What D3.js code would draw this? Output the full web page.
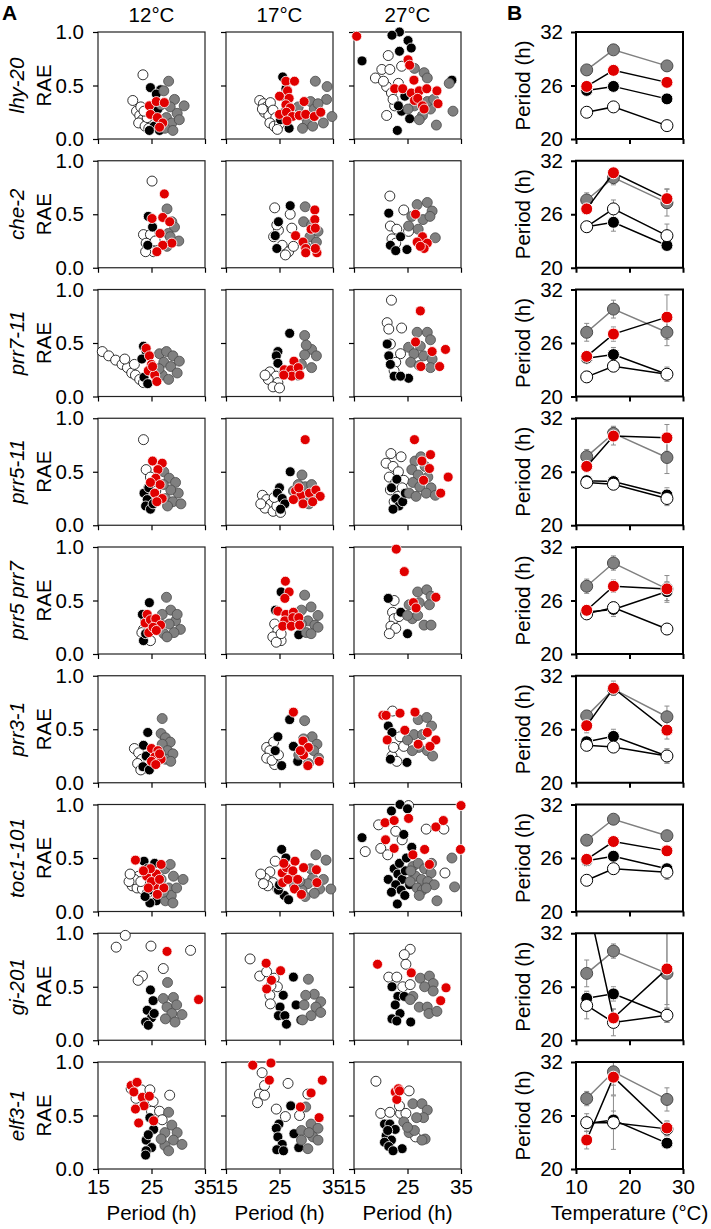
<!DOCTYPE html>
<html>
<head>
<meta charset="utf-8">
<script src="https://cdn.jsdelivr.net/npm/d3@7"></script>
<style>
  body { margin: 0; background: #fff; }
  text { font-family: "Liberation Sans", Arial, sans-serif; }
</style>
</head>
<body>
<svg width="711" height="1229"></svg>
<script>
const genotypes = ['lhy-20', 'che-2', 'prr7-11', 'prr5-11', 'prr5 prr7', 'prr3-1', 'toc1-101', 'gi-201', 'elf3-1']
const temps = [12, 17, 27]
const tempLabels = ['12°C', '17°C', '27°C']

// scatter points per row (genotype) and column (temperature): [period, RAE]
const ptsWhite = [
  [[[23.4,0.6],[21.5,0.36],[22.2,0.26],[22.8,0.22],[23.3,0.18],[22.6,0.15],[23.8,0.12],[24.2,0.2],[23.0,0.3],[24.5,0.1],[23.6,0.26]],
   [[21.3,0.36],[22.0,0.33],[22.6,0.3],[23.3,0.34],[22.2,0.25],[23.0,0.22],[23.8,0.27],[24.3,0.2],[23.2,0.15],[24.0,0.12],[25.0,0.14],[24.6,0.09],[21.8,0.28]],
   [[21.4,0.78],[20.2,0.65],[19.0,0.57],[21.7,0.65],[21.1,0.49],[22.0,0.43],[21.1,0.22],[22.6,0.31],[20.5,0.54],[22.3,0.37],[23.3,0.52],[23.9,0.68]]],
  [[[25.1,0.81],[23.5,0.31],[24.8,0.31],[24.0,0.23],[24.4,0.17],[25.4,0.15],[23.9,0.15],[25.7,0.25]],
   [[24.1,0.56],[27.0,0.5],[24.8,0.35],[23.9,0.29],[25.5,0.21],[26.7,0.15],[27.6,0.2],[27.3,0.37],[24.5,0.4],[26.1,0.12]],
   [[21.7,0.67],[24.3,0.54],[21.8,0.39],[23.0,0.36],[22.1,0.27],[25.2,0.34],[22.8,0.23]]],
  [[[15.8,0.42],[17.0,0.38],[18.3,0.34],[19.5,0.3],[20.5,0.27],[21.3,0.22],[22.0,0.2],[22.8,0.16],[23.5,0.13],[20.0,0.35],[21.8,0.3]],
   [[23.2,0.23],[24.4,0.19],[22.9,0.16],[24.7,0.13],[23.8,0.09],[25.0,0.08],[22.3,0.2]],
   [[22.0,0.9],[21.2,0.69],[21.5,0.63],[23.9,0.64],[21.8,0.49],[23.7,0.4],[22.8,0.32],[22.5,0.24]]],
  [[[23.5,0.8],[24.0,0.52],[24.8,0.45],[25.3,0.4],[24.5,0.35],[25.8,0.32],[25.0,0.25]],
   [[21.8,0.28],[22.6,0.24],[23.4,0.2],[22.3,0.16],[23.8,0.13],[24.5,0.18],[25.2,0.12],[24.0,0.26],[21.5,0.2]],
   [[21.9,0.67],[23.8,0.64],[21.0,0.58],[22.3,0.55],[23.3,0.5],[21.6,0.45],[22.8,0.4],[24.3,0.42],[21.8,0.33],[23.2,0.27],[22.5,0.22],[24.0,0.35]]],
  [[[23.9,0.31],[23.5,0.23],[24.2,0.16],[24.8,0.125],[23.2,0.2]],
   [[24.1,0.28],[24.7,0.22],[23.75,0.16],[25.3,0.125],[24.4,0.11],[25.3,0.19]],
   [[22.5,0.5],[22.2,0.39],[22.5,0.33],[21.9,0.26],[22.8,0.24],[21.6,0.19],[23.4,0.35]]],
  [[[21.8,0.32],[22.6,0.28],[23.2,0.22],[22.4,0.18],[23.8,0.14],[24.5,0.2],[23.0,0.12]],
   [[22.6,0.33],[23.9,0.38],[23.2,0.3],[22.6,0.23],[24.1,0.17],[23.6,0.21],[24.8,0.26]],
   [[22.2,0.67],[23.6,0.43],[24.3,0.34],[22.1,0.25],[23.0,0.2],[22.4,0.33]]],
  [[[21.4,0.24],[22.3,0.22],[23.3,0.21],[24.2,0.17],[22.6,0.33],[21.8,0.3],[20.8,0.28],[23.0,0.28],[21.0,0.35]],
   [[24.2,0.47],[23.2,0.37],[22.3,0.31],[23.8,0.27],[24.7,0.21],[22.8,0.24],[21.5,0.35],[22.0,0.26]],
   [[25.2,0.99],[19.6,0.81],[17.1,0.56],[20.0,0.59],[21.3,0.53],[28.5,0.77],[31.8,0.77],[32.0,0.36],[24.0,0.67],[22.8,0.75]]],
  [[[18.4,0.87],[20.1,0.98],[24.9,0.88],[32.3,0.84],[27.2,0.67],[23.3,0.6],[22.5,0.56]],
   [[19.5,0.76],[21.3,0.6],[22.6,0.64],[24.0,0.58],[24.6,0.5],[23.4,0.51],[23.2,0.42],[23.3,0.34]],
   [[25.5,0.85],[24.4,0.8],[24.7,0.71],[21.5,0.59],[23.0,0.59],[24.1,0.5],[25.5,0.52]]],
  [[[21.2,0.75],[23.1,0.74],[24.7,0.74],[28.4,0.69],[22.1,0.66],[24.0,0.66],[25.3,0.63],[25.0,0.54],[26.5,0.54],[27.0,0.46]],
   [[21.75,0.9],[22.2,0.78],[21.25,0.7],[22.2,0.69],[20.9,0.62],[26.6,0.8],[30.3,0.7],[24.4,0.56],[26.1,0.49],[28.75,0.5]],
   [[19.1,0.82],[25.3,0.73],[20.0,0.52],[21.7,0.53],[23.7,0.52],[24.7,0.52],[23.5,0.59],[26.5,0.3],[21.3,0.39]]]
]

const ptsBlack = [
  [[[24.8,0.48],[26.7,0.46],[25.9,0.42],[25.2,0.3],[26.0,0.2],[25.5,0.12],[26.5,0.08],[27.2,0.15],[24.6,0.08],[26.2,0.28]],
   [[25.6,0.58],[26.2,0.47],[25.6,0.4],[25.9,0.25],[26.8,0.1],[25.2,0.18],[26.5,0.32]],
   [[23.5,1.0],[22.1,0.97],[25.1,0.92],[25.7,0.85],[23.5,0.82],[16.5,0.73],[33.3,0.55],[23.1,0.08],[25.4,0.19],[23.9,0.26],[23.3,0.31],[24.5,0.4]]],
  [[[24.4,0.48],[25.2,0.38],[24.3,0.21]],
   [[27.0,0.58],[24.8,0.43],[24.5,0.18],[24.2,0.3]],
   [[21.5,0.51],[21.8,0.21],[24.9,0.17],[22.8,0.16],[23.7,0.29]]],
  [[[23.5,0.47],[24.0,0.42],[23.2,0.35],[24.6,0.25],[23.6,0.18],[24.3,0.12]],
   [[26.9,0.59],[24.7,0.42],[24.4,0.38],[24.7,0.31],[25.7,0.22]],
   [[21.2,0.49],[21.5,0.38],[21.8,0.3],[22.5,0.19],[25.2,0.17],[23.7,0.19]]],
  [[[23.6,0.3],[24.2,0.24],[23.9,0.18],[24.8,0.15],[25.3,0.2],[24.5,0.35]],
   [[27.0,0.5],[25.0,0.35],[24.6,0.3],[25.5,0.25],[26.0,0.2],[25.2,0.15]],
   [[22.0,0.35],[22.8,0.25],[23.4,0.18],[24.1,0.22],[22.3,0.15],[24.6,0.3],[23.0,0.43]]],
  [[[24.6,0.48],[23.3,0.37],[23.5,0.125],[23.9,0.19]],
   [[24.25,0.41],[25.3,0.58],[28.6,0.18]],
   [[21.4,0.52],[25.0,0.19],[23.75,0.39]]],
  [[[24.3,0.47],[23.5,0.35],[24.0,0.25],[23.4,0.15],[24.6,0.12]],
   [[26.9,0.59],[24.7,0.43],[27.6,0.34],[25.4,0.16],[28.4,0.2],[24.2,0.3]],
   [[21.4,0.53],[22.1,0.47],[24.9,0.19],[21.8,0.22]]],
  [[[23.6,0.47],[25.9,0.1],[24.7,0.08],[24.2,0.4],[25.0,0.3],[24.6,0.2],[25.6,0.45],[23.8,0.14],[26.2,0.18]],
   [[25.4,0.58],[25.9,0.15],[26.7,0.11],[24.8,0.2],[26.2,0.5],[25.0,0.25]],
   [[23.6,1.0],[22.0,0.94],[25.0,0.96],[16.5,0.69],[21.4,0.3],[23.1,0.07],[22.5,0.4],[23.2,0.35],[24.0,0.3],[22.8,0.25],[23.8,0.2],[24.6,0.38],[25.4,0.25],[22.0,0.18],[24.5,0.15],[23.5,0.45],[24.8,0.5],[25.8,0.6],[24.3,0.72]]],
  [[[24.8,0.47],[25.3,0.37],[24.2,0.28],[25.0,0.21],[23.9,0.17],[24.4,0.14],[25.5,0.25]],
   [[27.6,0.59],[25.7,0.42],[25.1,0.31],[24.8,0.23],[26.0,0.23],[28.1,0.33],[29.0,0.19],[26.3,0.15]],
   [[22.1,0.5],[23.2,0.41],[24.4,0.41],[22.7,0.33],[23.6,0.25],[22.1,0.2],[25.6,0.17],[23.0,0.18]]],
  [[[24.7,0.48],[25.4,0.37],[24.0,0.27],[25.0,0.2],[24.0,0.17],[23.9,0.13],[24.4,0.32]],
   [[27.1,0.59],[24.9,0.42],[24.4,0.38],[24.7,0.3],[25.5,0.23],[24.5,0.18],[25.75,0.17],[27.7,0.33],[28.6,0.2]],
   [[20.7,0.42],[21.7,0.42],[22.7,0.37],[21.0,0.31],[22.0,0.27],[20.7,0.25],[21.5,0.21],[24.0,0.19],[22.3,0.17],[21.3,0.36]]]
]

const ptsGrey = [
  [[[28.2,0.54],[27.3,0.45],[29.3,0.37],[31.1,0.31],[28.5,0.3],[29.8,0.24],[27.8,0.2],[28.8,0.15],[27.5,0.1],[29.0,0.08],[30.2,0.18],[26.8,0.32]],
   [[31.7,0.54],[33.9,0.49],[33.8,0.37],[34.8,0.21],[30.8,0.35],[31.5,0.28],[32.6,0.25],[29.5,0.22],[30.2,0.15],[31.2,0.12],[33.2,0.15],[28.5,0.3],[29.3,0.1],[32.2,0.33]],
   [[26.3,0.66],[28.1,0.62],[28.7,0.57],[32.8,0.52],[33.5,0.26],[30.4,0.13],[27.8,0.22],[29.3,0.28],[26.3,0.31],[25.1,0.28],[28.7,0.35],[27.2,0.18],[29.9,0.37]]],
  [[[27.9,0.55],[28.8,0.43],[29.3,0.38],[28.1,0.32],[30.1,0.25],[28.5,0.29],[27.9,0.2]],
   [[29.8,0.57],[29.5,0.43],[31.0,0.4],[32.2,0.34],[30.7,0.29],[31.9,0.24],[29.9,0.2]],
   [[26.8,0.59],[28.7,0.61],[29.6,0.53],[25.8,0.48],[27.9,0.45],[29.2,0.48],[25.2,0.39],[30.2,0.28],[27.0,0.36]]],
  [[[26.5,0.4],[27.8,0.42],[29.0,0.38],[30.2,0.33],[27.3,0.32],[28.6,0.28],[29.8,0.22],[27.0,0.2],[28.2,0.16],[26.4,0.26]],
   [[29.7,0.57],[31.0,0.44],[31.9,0.38],[29.7,0.39],[31.0,0.27],[29.1,0.3],[28.5,0.2],[30.0,0.48]],
   [[26.8,0.6],[28.7,0.6],[29.3,0.53],[27.4,0.47],[25.2,0.46],[26.2,0.4],[28.0,0.38],[29.6,0.35],[29.3,0.27],[25.6,0.32],[27.2,0.29]]],
  [[[27.3,0.5],[28.3,0.44],[29.5,0.4],[30.0,0.3],[28.6,0.33],[27.6,0.25],[29.0,0.22],[30.5,0.2],[27.2,0.38],[28.0,0.18]],
   [[29.2,0.47],[28.5,0.38],[29.8,0.36],[30.8,0.32],[31.5,0.27],[28.2,0.28],[29.5,0.22],[30.5,0.2],[27.6,0.32],[31.0,0.38]],
   [[26.4,0.6],[27.5,0.64],[28.3,0.55],[25.8,0.52],[27.0,0.47],[28.8,0.45],[26.0,0.4],[27.3,0.36],[29.4,0.35],[25.3,0.3],[28.5,0.3],[30.2,0.28],[26.6,0.27]]],
  [[[27.8,0.53],[28.6,0.41],[27.0,0.37],[29.5,0.31],[28.3,0.28],[30.4,0.23],[29.2,0.2],[27.3,0.19],[29.8,0.37],[26.7,0.28],[27.9,0.16]],
   [[29.7,0.55],[30.9,0.44],[29.1,0.41],[32.2,0.36],[30.3,0.31],[31.6,0.27],[30.0,0.2],[30.9,0.19],[29.1,0.28],[32.2,0.25]],
   [[26.9,0.58],[28.6,0.6],[29.4,0.54],[25.3,0.46],[27.2,0.48],[29.1,0.46],[25.9,0.33],[26.9,0.36],[28.1,0.27],[29.4,0.27],[25.0,0.36]]],
  [[[27.0,0.6],[26.8,0.46],[27.6,0.42],[28.5,0.38],[27.0,0.36],[28.0,0.3],[29.0,0.27],[27.6,0.22],[28.6,0.2],[26.6,0.28]],
   [[29.7,0.58],[31.1,0.43],[29.5,0.41],[32.0,0.36],[31.4,0.3],[28.6,0.26],[30.4,0.18],[32.3,0.23]],
   [[27.0,0.59],[28.6,0.61],[29.5,0.53],[26.2,0.45],[27.8,0.45],[25.0,0.4],[28.7,0.3],[27.1,0.33],[29.7,0.25],[25.9,0.3]]],
  [[[29.1,0.33],[30.9,0.3],[28.2,0.22],[27.6,0.1],[28.7,0.15],[29.7,0.22],[27.5,0.4],[28.5,0.44],[26.8,0.3],[27.2,0.18],[29.0,0.08]],
   [[31.8,0.53],[33.7,0.48],[31.2,0.31],[34.6,0.21],[30.3,0.26],[32.5,0.21],[29.2,0.2],[30.8,0.4],[28.8,0.28],[33.2,0.3],[29.8,0.14],[31.5,0.17],[27.8,0.24]],
   [[26.0,0.42],[27.0,0.45],[28.2,0.4],[29.4,0.36],[26.5,0.33],[27.6,0.3],[28.8,0.28],[25.5,0.28],[26.8,0.22],[27.8,0.2],[30.0,0.25],[33.8,0.23],[30.5,0.1],[33.3,0.5],[29.5,0.45],[25.6,0.38],[27.2,0.15],[28.5,0.22]]],
  [[[28.0,0.54],[27.2,0.39],[29.1,0.4],[27.9,0.31],[29.7,0.33],[28.8,0.25],[30.7,0.24],[27.6,0.2],[29.4,0.17]],
   [[30.4,0.57],[31.5,0.43],[29.9,0.42],[32.7,0.36],[31.8,0.31],[29.6,0.33],[32.7,0.26],[30.9,0.23],[29.3,0.19]],
   [[27.4,0.58],[29.1,0.6],[29.8,0.53],[28.2,0.5],[29.8,0.46],[26.0,0.41],[27.2,0.31],[28.7,0.31],[29.0,0.25],[30.5,0.27],[25.5,0.38]]],
  [[[28.2,0.53],[28.8,0.41],[27.5,0.34],[29.8,0.34],[29.1,0.27],[30.7,0.23],[27.5,0.22],[28.2,0.17],[26.8,0.28]],
   [[29.9,0.58],[30.9,0.42],[29.1,0.36],[32.2,0.38],[31.25,0.3],[29.1,0.27],[32.2,0.27],[30.3,0.19],[30.5,0.34]],
   [[26.0,0.61],[27.7,0.61],[28.7,0.55],[28.0,0.48],[26.7,0.48],[24.3,0.44],[25.3,0.34],[26.3,0.36],[28.3,0.28],[27.7,0.27],[25.0,0.39]]]
]

const ptsRed = [
  [[[24.6,0.31],[25.9,0.35],[27.4,0.34],[24.8,0.23],[26.1,0.2],[27.1,0.15],[26.5,0.11]],
   [[26.2,0.54],[27.8,0.54],[26.5,0.45],[25.0,0.4],[26.8,0.38],[26.2,0.32],[27.0,0.29],[29.6,0.35],[25.0,0.23],[26.3,0.25],[27.4,0.21],[28.7,0.22],[29.9,0.23],[31.5,0.21],[32.7,0.25],[26.4,0.17]],
   [[15.5,0.96],[25.1,0.74],[25.4,0.69],[26.2,0.55],[22.6,0.47],[24.1,0.47],[25.7,0.43],[27.2,0.45],[28.6,0.47],[30.5,0.45],[30.7,0.33],[26.3,0.36],[26.9,0.38],[27.8,0.31],[28.1,0.28]]],
  [[[27.4,0.69],[25.1,0.46],[27.1,0.47],[28.4,0.43],[26.6,0.32],[28.8,0.23],[27.1,0.21],[26.0,0.15]],
   [[31.6,0.54],[31.6,0.45],[30.9,0.36],[31.7,0.37],[28.0,0.3],[29.4,0.24],[29.9,0.18],[32.0,0.14],[29.9,0.14],[31.7,0.18]],
   [[26.5,0.5],[27.8,0.29],[26.8,0.24],[28.7,0.23],[28.1,0.18],[27.4,0.2]]],
  [[[24.0,0.45],[24.6,0.38],[25.0,0.3],[24.4,0.24],[25.6,0.2],[26.0,0.14],[25.2,0.28]],
   [[27.7,0.33],[25.9,0.25],[27.1,0.25],[28.5,0.27],[27.3,0.19],[25.8,0.2],[28.8,0.2]],
   [[27.4,0.8],[26.5,0.51],[29.6,0.42],[32.1,0.44],[27.5,0.28],[31.0,0.28]]],
  [[[25.2,0.6],[27.0,0.58],[26.2,0.52],[25.8,0.44],[26.6,0.38],[25.6,0.3],[27.0,0.25],[26.0,0.22],[24.8,0.4]],
   [[29.8,0.8],[28.0,0.32],[29.0,0.28],[30.6,0.3],[31.8,0.33],[32.6,0.27],[27.6,0.24],[29.4,0.2],[31.2,0.22],[28.6,0.35]],
   [[26.3,0.8],[29.3,0.66],[27.7,0.6],[29.1,0.53],[32.6,0.45],[31.2,0.3],[28.0,0.42]]],
  [[[23.8,0.29],[24.2,0.37],[24.8,0.32],[25.8,0.33],[24.5,0.2],[26.7,0.27],[25.3,0.25],[25.9,0.22]],
   [[26.1,0.68],[26.8,0.58],[26.0,0.52],[24.7,0.4],[26.2,0.37],[27.6,0.39],[26.0,0.31],[27.5,0.34],[28.6,0.34],[25.6,0.26],[27.2,0.26],[28.75,0.27]],
   [[22.9,0.98],[24.4,0.77],[30.3,0.53],[26.1,0.48],[26.6,0.43]]],
  [[[25.0,0.32],[26.2,0.3],[25.6,0.24],[26.8,0.22],[25.0,0.2],[25.8,0.17],[26.5,0.27]],
   [[27.6,0.66],[29.4,0.39],[30.4,0.33],[29.5,0.26],[30.3,0.16],[32.4,0.2],[28.9,0.3]],
   [[20.4,0.63],[21.0,0.63],[23.6,0.65],[26.4,0.66],[24.5,0.49],[28.7,0.47],[30.3,0.4],[21.2,0.4],[27.0,0.36],[29.2,0.34]]],
  [[[22.0,0.48],[24.1,0.33],[25.9,0.35],[26.8,0.44],[25.6,0.24],[27.3,0.22],[26.1,0.16],[24.8,0.4],[23.5,0.38],[25.0,0.28],[26.5,0.3],[24.4,0.22]],
   [[27.9,0.47],[29.5,0.41],[31.9,0.39],[25.5,0.36],[27.4,0.34],[26.3,0.41],[25.6,0.27],[27.8,0.21],[29.1,0.16],[32.0,0.27],[27.5,0.38],[26.6,0.3],[25.8,0.45],[28.4,0.3]],
   [[35.0,0.99],[34.9,0.58],[20.8,0.83],[22.5,0.85],[25.2,0.87],[30.3,0.79],[31.7,0.85],[20.9,0.67],[22.5,0.59],[28.2,0.58],[26.0,0.53],[29.1,0.44]]],
  [[[27.9,0.83],[33.8,0.38]],
   [[22.5,0.72],[25.2,0.65],[23.5,0.56],[22.6,0.48]],
   [[19.4,0.71],[25.7,0.63],[32.2,0.49],[31.2,0.37]]],
  [[[21.2,0.78],[22.3,0.81],[21.7,0.72],[23.3,0.67],[24.6,0.68],[23.6,0.59],[22.0,0.56],[22.6,0.43],[25.4,0.45]],
   [[20.0,0.97],[23.4,0.99],[23.1,0.83],[33.0,0.83],[30.9,0.71],[28.9,0.58],[32.4,0.48]],
   [[22.7,0.72],[23.3,0.75],[23.0,0.65],[23.5,0.73]]]
]

// mean free-running period (h) at 12, 17, 27 °C, one row per genotype
const periodGrey  = [[27.75,30.0,28.2],[27.6,30.1,27.3],[27.2,29.8,27.2],[27.7,30.3,27.6],[27.6,30.2,27.3],[27.5,30.5,27.4],[28.0,30.35,28.5],[27.5,30.0,27.5],[27.9,30.9,27.8]]
const periodBlack = [[25.45,25.9,24.5],[24.6,25.1,22.5],[24.3,24.7,22.5],[25.0,24.9,23.4],[24.7,25.0,27.0],[24.6,25.2,23.0],[25.7,26.2,24.8],[24.7,25.2,22.8],[25.1,25.5,22.9]]
const periodWhite = [[23.0,23.6,21.5],[24.6,26.6,23.6],[22.2,23.4,22.5],[24.8,24.6,23.0],[24.5,25.2,22.8],[24.2,24.0,23.0],[23.5,24.8,24.4],[23.9,22.0,22.8],[25.2,25.2,24.5]]
const periodRed   = [[25.9,27.7,26.35],[26.6,30.65,27.75],[24.5,27.0,28.9],[26.6,30.0,29.8],[24.9,27.6,27.3],[26.4,30.6,25.9],[25.85,27.85,26.8],[36.0,22.5,28.0],[23.25,30.3,24.6]]
// error bars (± h)
const errGrey  = [[0,0,0],[0.8,0.8,1.5],[1.0,1.0,1.5],[0.8,0.8,1.8],[0.8,0.8,0.8],[0.6,0.6,1.2],[0,0,0.3],[1.5,0.8,4.5],[0.8,1.5,1.3]]
const errBlack = [[0,0,0],[0.5,1.0,0.5],[0.5,0.8,0.5],[0.5,0.6,0.8],[0.5,0.8,1.0],[0.5,0.8,0.8],[0.3,0.3,0.5],[0.8,0.8,0.8],[0.5,1.0,0.5]]
const errWhite = [[0,0,0],[0.5,1.0,1.3],[0.6,0.6,0.8],[0.5,0.6,0.8],[0.5,0.6,0.6],[0.5,0.5,0.8],[0.3,0.5,0.8],[1.5,1.5,0.8],[1.0,3.0,0.8]]
const errRed   = [[0,0,0],[0.6,0.5,1.1],[0.6,0.8,2.5],[0.6,1.0,1.5],[0.5,0.7,1.5],[0.8,0.8,1.0],[0.3,0.3,0.5],[0,1.0,4.0],[1.0,2.0,0.8]]

const svg = d3.select('svg')
const fontSize = 20.5
const colLeft = [98, 226, 354]
const rightLeft = 576
const panelW = 107
const panelH = 107
const rowTop = i => 32 + i * 128.75

const styleOf = {
  white: {fill: '#fff', stroke: '#000'},
  black: {fill: '#000', stroke: '#fff'},
  grey: {fill: '#808080', stroke: '#4a4a4a'},
  red: {fill: '#e00000', stroke: '#fff'}
}

const xScat = d3.scaleLinear().domain([15, 35]).range([0, panelW])
const yScat = d3.scaleLinear().domain([0, 1]).range([panelH, 0])
const xTemp = d3.scaleLinear().domain([10, 30]).range([0, panelW])
const yPer = d3.scaleLinear().domain([20, 32]).range([panelH, 0])

svg.append('defs').append('clipPath').attr('id', 'clipB')
  .append('rect').attr('x', -10).attr('y', 0).attr('width', panelW + 20).attr('height', panelH)

const styleAxis = (g, w) => {
  g.attr('font-size', fontSize).attr('font-family', '"Liberation Sans", Arial, sans-serif')
  g.select('.domain').remove()
  g.selectAll('.tick line').attr('stroke', '#000').attr('stroke-width', w)
  g.selectAll('.tick text').attr('fill', '#000')
}

// panel letters and column headings
svg.append('text').attr('x', 2).attr('y', 20).attr('font-size', 21).attr('font-weight', 'bold').text('A')
svg.append('text').attr('x', 507).attr('y', 20).attr('font-size', 21).attr('font-weight', 'bold').text('B')
tempLabels.forEach((t, j) => {
  svg.append('text').attr('x', colLeft[j] + panelW / 2).attr('y', 22)
    .attr('text-anchor', 'middle').attr('font-size', fontSize).text(t)
})

const seriesScatter = [['white', ptsWhite], ['black', ptsBlack], ['grey', ptsGrey], ['red', ptsRed]]

genotypes.forEach((gen, i) => {
  const top = rowTop(i)
  const midY = top + panelH / 2

  svg.append('text')
    .attr('transform', `translate(24, ${midY}) rotate(-90)`)
    .attr('text-anchor', 'middle').attr('font-size', fontSize).attr('font-style', 'italic')
    .text(gen)
  svg.append('text')
    .attr('transform', `translate(51, ${midY}) rotate(-90)`)
    .attr('text-anchor', 'middle').attr('font-size', fontSize)
    .text('RAE')

  temps.forEach((t, j) => {
    const g = svg.append('g').attr('transform', `translate(${colLeft[j]}, ${top})`)
    g.append('rect').attr('width', panelW).attr('height', panelH)
      .attr('fill', 'none').attr('stroke', '#222').attr('stroke-width', 1.2)

    g.append('g')
      .call(d3.axisLeft(yScat).tickValues([0, 0.5, 1]).tickSize(5).tickPadding(9)
        .tickFormat(j === 0 ? d3.format('.1f') : () => ''))
      .call(a => styleAxis(a, 1.2))

    g.append('g').attr('transform', `translate(0, ${panelH})`)
      .call(d3.axisBottom(xScat).tickValues([15, 25, 35]).tickSize(5).tickPadding(5)
        .tickFormat(i === genotypes.length - 1 ? d3.format('d') : () => ''))
      .call(a => styleAxis(a, 1.2))

    seriesScatter.forEach(([key, arr]) => {
      g.append('g').selectAll('circle')
        .data(arr[i][j])
        .enter()
        .append('circle')
        .attr('cx', d => xScat(d[0]))
        .attr('cy', d => yScat(d[1]))
        .attr('r', 5)
        .attr('fill', styleOf[key].fill)
        .attr('stroke', styleOf[key].stroke)
        .attr('stroke-width', 0.8)
    })
  })

  // panel B: period vs temperature
  const gb = svg.append('g').attr('transform', `translate(${rightLeft}, ${top})`)
  gb.append('g')
    .call(d3.axisLeft(yPer).tickValues([20, 26, 32]).tickSize(5).tickPadding(8))
    .call(a => styleAxis(a, 2))
  gb.append('g').attr('transform', `translate(0, ${panelH})`)
    .call(d3.axisBottom(xTemp).tickValues([10, 20, 30]).tickSize(5).tickPadding(5)
      .tickFormat(i === genotypes.length - 1 ? d3.format('d') : () => ''))
    .call(a => styleAxis(a, 2))

  svg.append('text')
    .attr('transform', `translate(530, ${midY}) rotate(-90)`)
    .attr('text-anchor', 'middle').attr('font-size', fontSize)
    .text('Period (h)')

  const plot = gb.append('g').attr('clip-path', 'url(#clipB)')
  const seriesB = [
    ['black', periodBlack, errBlack, '#000'],
    ['grey', periodGrey, errGrey, '#808080'],
    ['white', periodWhite, errWhite, '#000'],
    ['red', periodRed, errRed, '#000']
  ]
  seriesB.forEach(([key, vals, errs]) => {
    const rows = temps.map((t, k) => ({t, v: vals[i][k], e: errs[i][k]}))
    const eb = plot.append('g').selectAll('g').data(rows.filter(d => d.e > 0)).enter().append('g')
      .attr('stroke', '#8c8c8c').attr('stroke-width', 1)
    eb.append('line')
      .attr('x1', d => xTemp(d.t)).attr('x2', d => xTemp(d.t))
      .attr('y1', d => yPer(d.v - d.e)).attr('y2', d => yPer(d.v + d.e))
    eb.append('line')
      .attr('x1', d => xTemp(d.t) - 2.5).attr('x2', d => xTemp(d.t) + 2.5)
      .attr('y1', d => yPer(d.v + d.e)).attr('y2', d => yPer(d.v + d.e))
    eb.append('line')
      .attr('x1', d => xTemp(d.t) - 2.5).attr('x2', d => xTemp(d.t) + 2.5)
      .attr('y1', d => yPer(d.v - d.e)).attr('y2', d => yPer(d.v - d.e))
  })
  seriesB.forEach(([key, vals, errs, lineColor]) => {
    const rows = temps.map((t, k) => ({t, v: vals[i][k]}))
    plot.append('path')
      .datum(rows)
      .attr('fill', 'none')
      .attr('stroke', lineColor)
      .attr('stroke-width', 1.5)
      .attr('d', d3.line().x(d => xTemp(d.t)).y(d => yPer(d.v)))
    plot.append('g').selectAll('circle')
      .data(rows)
      .enter()
      .append('circle')
      .attr('cx', d => xTemp(d.t))
      .attr('cy', d => yPer(d.v))
      .attr('r', 6)
      .attr('fill', styleOf[key].fill)
      .attr('stroke', key === 'white' ? '#000' : styleOf[key].stroke)
      .attr('stroke-width', 1)
  })

  gb.append('rect').attr('width', panelW).attr('height', panelH)
    .attr('fill', 'none').attr('stroke', '#000').attr('stroke-width', 2)
})

// bottom axis titles
const bottomY = rowTop(genotypes.length - 1) + panelH
colLeft.forEach(x => {
  svg.append('text').attr('x', x + panelW / 2).attr('y', bottomY + 51)
    .attr('text-anchor', 'middle').attr('font-size', fontSize).text('Period (h)')
})
svg.append('text').attr('x', rightLeft + panelW / 2).attr('y', bottomY + 51)
  .attr('text-anchor', 'middle').attr('font-size', fontSize).text('Temperature (°C)')
</script>
</body>
</html>
